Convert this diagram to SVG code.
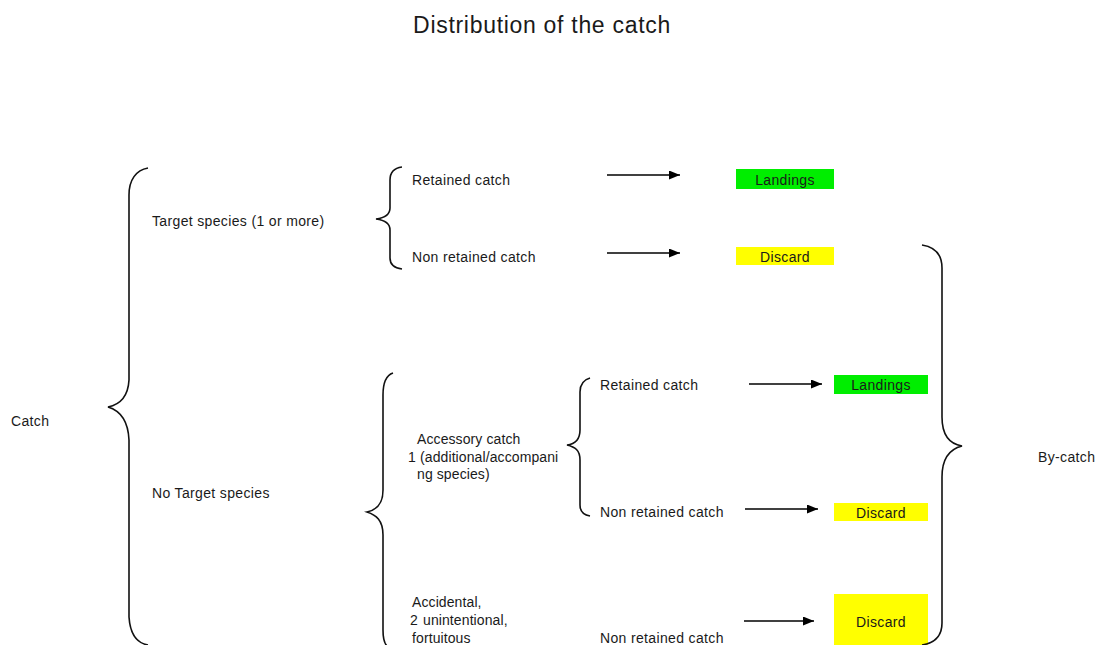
<svg xmlns="http://www.w3.org/2000/svg" width="1096" height="645" viewBox="0 0 1096 645">
<style>
text{font-family:"Liberation Sans",Arial,sans-serif;font-size:14px;letter-spacing:0.35px;fill:#1a1a1a}
.title{font-size:23px;letter-spacing:0.7px}
.tight{letter-spacing:0.1px}
.brace{fill:none;stroke:#111;stroke-width:1.6}
.conn{stroke:#000;stroke-width:1.4;fill:none}
.land{fill:#00ee00}
.disc{fill:#ffff00}
.mid{text-anchor:middle}
</style>
<defs>
<marker id="ah" markerWidth="11" markerHeight="9" refX="11" refY="4.5" orient="auto" markerUnits="userSpaceOnUse">
<path d="M0,0 L11,4.5 L0,9 Z" fill="#000"/>
</marker>
</defs>
<rect width="1096" height="645" fill="#fff"/>
<text class="title" x="542" y="33" text-anchor="middle">Distribution of the catch</text>

<g id="catch">
<text x="11" y="426">Catch</text>
<path class="brace" d="M148,168 C136,170 129,180 129,195 L129,380 C128,398 118,405 108,407 C118,410 128,418 129,440 L129,617 C130,632 136,643 148,645"/>
</g>

<g id="target">
<text x="152" y="226">Target species (1 or more)</text>
<path class="brace" d="M402,167 C394,168 390,172 390,180 L390,208 C390,215 384,218 376,219 C384,220 390,223 390,230 L390,258 C390,265 394,268 402,269"/>
</g>
<g id="t-retained"><text x="412" y="185">Retained catch</text></g>
<g id="t-nonretained"><text x="412" y="262">Non retained catch</text></g>
<g id="t-landings"><rect class="land" x="736" y="169" width="98" height="20"/><text class="mid" x="785" y="185">Landings</text></g>
<g id="t-discard"><rect class="disc" x="736" y="247" width="98" height="18"/><text class="mid" x="785" y="262">Discard</text></g>

<g id="notarget">
<text x="152" y="498">No Target species</text>
<path class="brace" d="M393,373 C387,375 383,382 383,395 L383,490 C383,505 376,510 367,512 C376,515 383,520 383,535 L383,630 C383,640 385,644 387,646"/>
</g>

<g id="accessory">
<text class="tight" x="417" y="444">Accessory catch</text>
<text class="tight" x="408" y="462">1</text>
<text class="tight" x="420" y="462">(additional/accompani</text>
<text class="tight" x="417" y="479">ng species)</text>
<path class="brace" d="M590,378 C583,380 580,385 580,392 L580,430 C580,440 575,444 567,445 C575,447 580,450 580,460 L580,505 C580,512 584,515 590,516"/>
</g>
<g id="a-retained"><text x="600" y="390">Retained catch</text></g>
<g id="a-nonretained"><text x="600" y="517">Non retained catch</text></g>
<g id="a-landings"><rect class="land" x="834" y="375" width="94" height="19"/><text class="mid" x="881" y="390">Landings</text></g>
<g id="a-discard"><rect class="disc" x="834" y="503" width="94" height="18"/><text class="mid" x="881" y="518">Discard</text></g>

<g id="accidental">
<text class="tight" x="412" y="607">Accidental,</text>
<text class="tight" x="410" y="625">2</text>
<text class="tight" x="423" y="625">unintentional,</text>
<text class="tight" x="412" y="643">fortuitous</text>
</g>
<g id="b-nonretained"><text x="600" y="643">Non retained catch</text></g>
<g id="b-discard"><rect class="disc" x="834" y="594" width="94" height="52"/><text class="mid" x="881" y="627">Discard</text></g>

<g id="bycatch">
<path class="brace" d="M922,245 C935,247 942,255 942,268 L942,417 C942,435 950,444 962,446 C950,449 942,458 942,477 L942,623 C942,636 935,643 922,645"/>
<text x="1038" y="462">By-catch</text>
</g>

<g id="connectors">
<line class="conn" x1="607" y1="175" x2="680" y2="175" marker-end="url(#ah)"/>
<line class="conn" x1="607" y1="253" x2="680" y2="253" marker-end="url(#ah)"/>
<line class="conn" x1="749" y1="384" x2="822" y2="384" marker-end="url(#ah)"/>
<line class="conn" x1="745" y1="509" x2="818" y2="509" marker-end="url(#ah)"/>
<line class="conn" x1="744" y1="621" x2="814" y2="621" marker-end="url(#ah)"/>
</g>
</svg>
